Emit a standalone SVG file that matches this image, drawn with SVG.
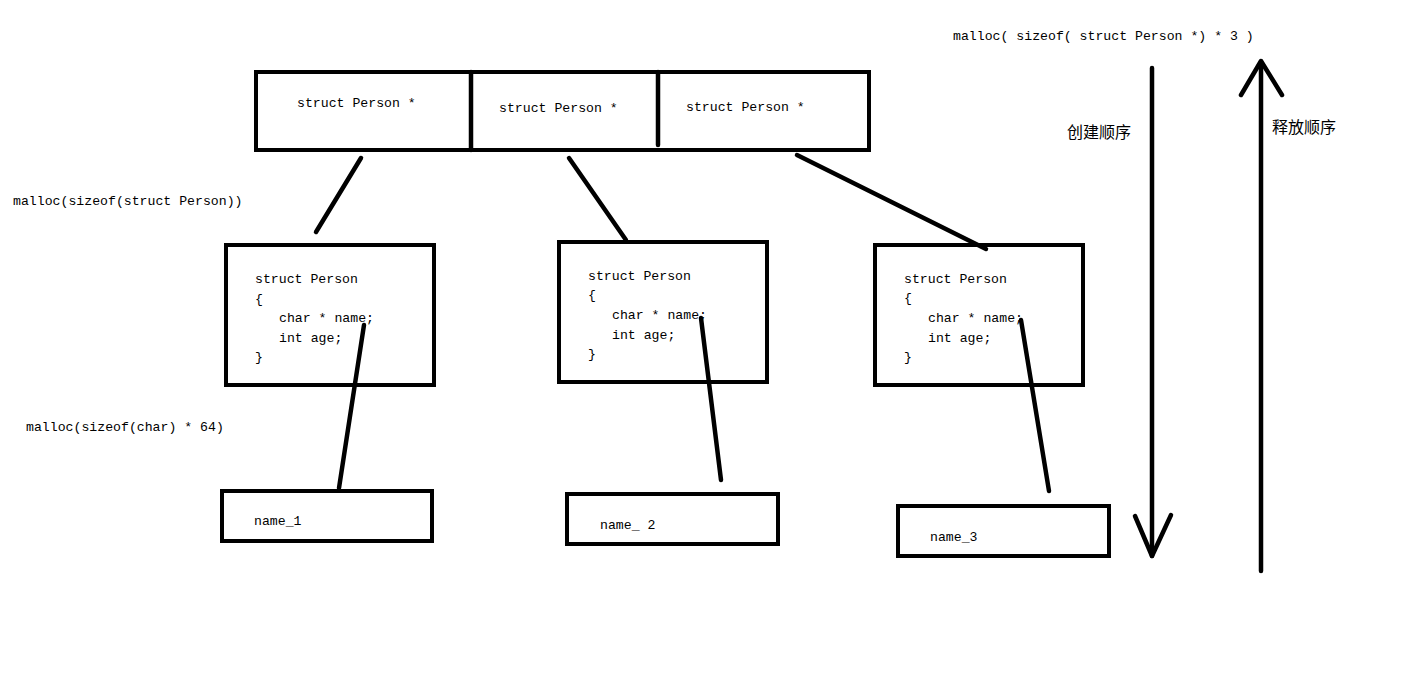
<svg xmlns="http://www.w3.org/2000/svg" width="1423" height="689" viewBox="0 0 1423 689">
  <style>
    .box { fill: none; stroke: #000; stroke-width: 4; }
    .wire { stroke: #000; stroke-width: 4.5; stroke-linecap: round; fill: none; }
    .code { font-family: "Liberation Mono", "DejaVu Sans Mono", monospace; font-size: 13.2px; fill: #000; }
    .cjk { font-family: "Noto Sans CJK SC", sans-serif; font-size: 16px; fill: #000; }
  </style>
  <rect width="1423" height="689" fill="#fff"/>

  <!-- pointer array -->
  <g id="pointer-array">
    <rect class="box" x="256" y="72" width="613" height="78"/>
    <line class="wire" x1="471" y1="72" x2="471" y2="150" stroke-linecap="butt"/>
    <line class="wire" x1="658" y1="72" x2="658" y2="145"/>
    <text class="code" x="297" y="107">struct Person *</text>
    <text class="code" x="499" y="112">struct Person *</text>
    <text class="code" x="686" y="111">struct Person *</text>
  </g>

  <!-- struct instances -->
  <g id="person-1">
    <rect class="box" x="226" y="245" width="208" height="140"/>
    <text class="code" x="255" y="283">struct Person</text>
    <text class="code" x="255" y="303">{</text>
    <text class="code" x="279" y="322">char * name;</text>
    <text class="code" x="279" y="342">int age;</text>
    <text class="code" x="255" y="361">}</text>
  </g>
  <g id="person-2">
    <rect class="box" x="559" y="242" width="208" height="140"/>
    <text class="code" x="588" y="280">struct Person</text>
    <text class="code" x="588" y="299">{</text>
    <text class="code" x="612" y="319">char * name;</text>
    <text class="code" x="612" y="339">int age;</text>
    <text class="code" x="588" y="358">}</text>
  </g>
  <g id="person-3">
    <rect class="box" x="875" y="245" width="208" height="140"/>
    <text class="code" x="904" y="283">struct Person</text>
    <text class="code" x="904" y="302">{</text>
    <text class="code" x="928" y="322">char * name;</text>
    <text class="code" x="928" y="342">int age;</text>
    <text class="code" x="904" y="361">}</text>
  </g>

  <!-- name buffers -->
  <g id="name-1">
    <rect class="box" x="222" y="491" width="210" height="50"/>
    <text class="code" x="254" y="525">name_1</text>
  </g>
  <g id="name-2">
    <rect class="box" x="567" y="494" width="211" height="50"/>
    <text class="code" x="600" y="529">name_ 2</text>
  </g>
  <g id="name-3">
    <rect class="box" x="898" y="506" width="211" height="50"/>
    <text class="code" x="930" y="541">name_3</text>
  </g>

  <!-- connectors -->
  <g id="connectors">
    <line class="wire" x1="361" y1="158" x2="316" y2="232"/>
    <line class="wire" x1="569" y1="158" x2="626" y2="240"/>
    <line class="wire" x1="797" y1="155" x2="986" y2="249"/>
    <line class="wire" x1="364" y1="325" x2="339" y2="488"/>
    <line class="wire" x1="701" y1="318" x2="721" y2="480"/>
    <line class="wire" x1="1021" y1="320" x2="1049" y2="491"/>
  </g>

  <!-- order arrows -->
  <g id="create-order">
    <line class="wire" x1="1152" y1="68" x2="1152" y2="556"/>
    <polyline class="wire" points="1135,516 1152,556 1171,515" stroke-linejoin="round"/>
    <text class="cjk" x="1067" y="138">创建顺序</text>
  </g>
  <g id="release-order">
    <line class="wire" x1="1261" y1="62" x2="1261" y2="571"/>
    <polyline class="wire" points="1241,95 1261,61 1282,95" stroke-linejoin="round"/>
    <text class="cjk" x="1272" y="133">释放顺序</text>
  </g>

  <!-- annotations -->
  <g id="labels">
    <text class="code" x="953" y="40">malloc( sizeof( struct Person *) * 3 )</text>
    <text class="code" x="13" y="205">malloc(sizeof(struct Person))</text>
    <text class="code" x="26" y="431">malloc(sizeof(char) * 64)</text>
  </g>
</svg>
